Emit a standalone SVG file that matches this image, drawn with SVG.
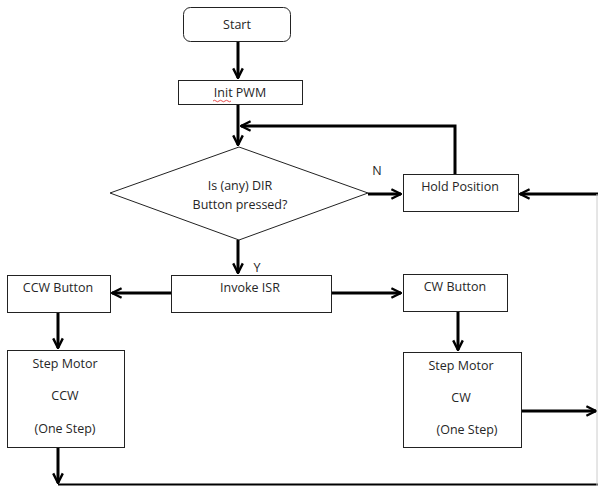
<svg xmlns="http://www.w3.org/2000/svg" width="598" height="486" viewBox="0 0 598 486">
<style>
.box{fill:#fff;stroke:#222;stroke-width:1}
.t{font-family:"Open Sans","Liberation Sans",sans-serif;font-size:12.5px;fill:#262626;text-anchor:middle}
.c{fill:none;stroke:#000;stroke-width:3}
</style>
<defs>
<marker id="a" viewBox="0 0 10 10" refX="9" refY="5" markerWidth="4" markerHeight="4" orient="auto" markerUnits="strokeWidth">
<path d="M1,1 L9,5 L1,9" fill="none" stroke="#000" stroke-width="2"/>
</marker>
</defs>
<rect width="598" height="486" fill="#fff"/>
<g id="connectors">
<line class="c" x1="238" y1="41" x2="238" y2="78" marker-end="url(#a)"/>
<line class="c" x1="238" y1="104" x2="238" y2="145" marker-end="url(#a)"/>
<polyline class="c" points="455,174 455,126 241,126" marker-end="url(#a)"/>
<line class="c" x1="368" y1="194" x2="401" y2="194" marker-end="url(#a)"/>
<line class="c" x1="598" y1="194" x2="520" y2="194" marker-end="url(#a)"/>
<line class="c" x1="238" y1="240" x2="238" y2="273" marker-end="url(#a)"/>
<line class="c" x1="171" y1="293" x2="112" y2="293" marker-end="url(#a)"/>
<line class="c" x1="331" y1="293" x2="401" y2="293" marker-end="url(#a)"/>
<line class="c" x1="58" y1="312" x2="58" y2="348" marker-end="url(#a)"/>
<line class="c" x1="458" y1="311" x2="458" y2="350" marker-end="url(#a)"/>
<line class="c" x1="522" y1="411" x2="596" y2="411" marker-end="url(#a)"/>
<line class="c" x1="58" y1="447" x2="58" y2="483" marker-end="url(#a)"/>
<line x1="58" y1="484.5" x2="598" y2="484.5" stroke="#000" stroke-width="2"/>
<line x1="597" y1="194" x2="597" y2="486" stroke="#ccc" stroke-width="1"/>
</g>
<g id="start">
<rect class="box" x="183.5" y="7.5" width="107" height="34" rx="7"/>
<text class="t" x="237" y="29" font-size="15">Start</text>
</g>
<g id="init">
<rect class="box" x="178.5" y="80.5" width="124" height="24"/>
<text class="t" x="240" y="97">Init PWM</text>
<path d="M213,101 q1.5,-1.5 3,0 t3,0 t3,0 t3,0 t3,0 t3,0" fill="none" stroke="#e02020" stroke-width="0.8"/>
</g>
<g id="decision">
<polygon class="box" points="110,193 239,147 368,193 239,240"/>
<text class="t" x="240" y="190">Is (any) DIR</text>
<text class="t" x="240" y="209">Button pressed?</text>
</g>
<g id="labels">
<text class="t" x="377" y="175" font-size="11">N</text>
<text class="t" x="257" y="272" font-size="11">Y</text>
</g>
<g id="hold">
<rect class="box" x="403.5" y="174.5" width="115" height="37"/>
<text class="t" x="460" y="191">Hold Position</text>
</g>
<g id="isr">
<rect class="box" x="171.5" y="275.5" width="160" height="37"/>
<text class="t" x="250" y="292">Invoke ISR</text>
</g>
<g id="ccw">
<rect class="box" x="7.5" y="275.5" width="103" height="37"/>
<text class="t" x="58" y="292">CCW Button</text>
</g>
<g id="cw">
<rect class="box" x="403.5" y="274.5" width="104" height="37"/>
<text class="t" x="455" y="291">CW Button</text>
</g>
<g id="stepccw">
<rect class="box" x="7.5" y="350.5" width="117" height="97"/>
<text class="t" x="65" y="368">Step Motor</text>
<text class="t" x="65" y="400">CCW</text>
<text class="t" x="65" y="433">(One Step)</text>
</g>
<g id="stepcw">
<rect class="box" x="403.5" y="352.5" width="118" height="95"/>
<text class="t" x="461" y="370">Step Motor</text>
<text class="t" x="461" y="402">CW</text>
<text class="t" x="467" y="434">(One Step)</text>
</g>
</svg>
